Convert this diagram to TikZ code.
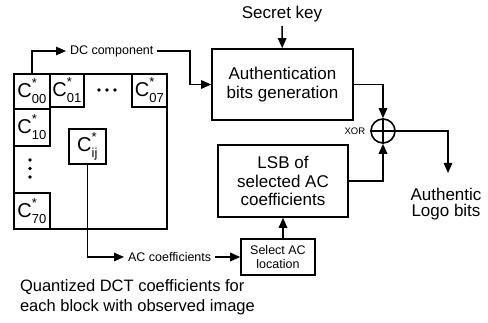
\documentclass[tikz,border=0pt]{standalone}
\usepackage{fontspec}
\setmainfont{Liberation Sans}
\usetikzlibrary{positioning, arrows.meta}

% quantized coefficient label: C with star and index
\newcommand{\qcoef}[1]{C\rlap{\raisebox{0.5em}{\fontsize{13}{13}\selectfont *}}\raisebox{-0.3em}{\fontsize{13}{13}\selectfont #1}}

\begin{document}
\begin{tikzpicture}[x=1pt, y=-1pt, line width=1.4pt, >={Triangle[length=10pt, width=8.5pt]},
    block/.style={draw, line width=1.6pt, align=center, font=\fontsize{17}{18.5}\selectfont},
    cell/.style={draw, line width=1.6pt, inner sep=0pt, anchor=north west, font=\fontsize{20}{20}\selectfont},
    lbl/.style={font=\fontsize{12.5}{14}\selectfont}]
    \useasboundingbox (0,0) rectangle (488,323);

    % coefficient block
    \node[draw, line width=1.6pt, anchor=north west, minimum width=153pt, minimum height=155pt] (blk) at (13,73) {};
    \node[cell, minimum width=36pt, minimum height=35pt] (c00) at (13,73) {\qcoef{00}};
    \node[cell, minimum width=34pt, minimum height=33pt] (c01) at (49,73) {\qcoef{01}};
    \node[cell, minimum width=35pt, minimum height=33pt] (c07) at (131,73) {\qcoef{07}};
    \node[cell, minimum width=36pt, minimum height=37pt] (c10) at (13,108) {\qcoef{10}};
    \node[cell, minimum width=36pt, minimum height=36pt] (c70) at (13,192) {\qcoef{70}};
    \node[cell, minimum width=37pt, minimum height=35pt] (cij) at (68,128) {\qcoef{ij}};
    % ellipsis dots
    \foreach \x in {99,107,115} \fill (\x,90) circle (1.8pt);
    \foreach \y in {160,168.5,177} \fill (30,\y) circle (1.8pt);

    % processing blocks
    \node[block, minimum width=141pt, minimum height=71pt] (auth) at (282.5,84.5) {Authentication\\bits generation};
    \node[block, minimum width=130pt, minimum height=72pt] (lsb) at (283,181) {LSB of\\selected AC\\coefficients};
    \node[draw, line width=1.6pt, align=center, minimum width=74pt, minimum height=36pt,
        font=\fontsize{12.5}{14}\selectfont] (sel) at (278,257) {Select AC\\location};
    \node[draw, circle, line width=1.6pt, minimum size=24pt, inner sep=0pt] (xor) at (383,131) {};
    \draw[line width=1.6pt] (xor.north) -- (xor.south) (xor.west) -- (xor.east);
    \node[left=1pt of xor, font=\fontsize{9.5}{10}\selectfont] (xorlbl) {XOR};

    % texts
    \node[font=\fontsize{17}{18}\selectfont] (key) at (282,14) {Secret key};
    \node[lbl, anchor=west] (dc) at (66,51) {DC component};
    \node[lbl, anchor=west] (ac) at (124,257) {AC coefficients};
    \node[align=center, font=\fontsize{17}{16.5}\selectfont] (logo) at (446,204) {Authentic\\Logo bits};
    \node[align=left, anchor=north west, font=\fontsize{16.5}{20}\selectfont] (caption) at (16,276)
        {Quantized DCT coefficients for\\each block with observed image};

    \coordinate (dcbend) at (190,51);
    \coordinate (outend) at (448,173);

    % connections
    \draw[->] (c00.north) |- (dc.west);
    \draw[->] (dc.east) -- (dcbend) |- (auth.west);
    \draw[->] (key) -- (auth);
    \draw[->] (auth.east) -| (xor.north);
    \draw[->] (lsb.east) -| (xor.south);
    \draw[->] (xor.east) -| (outend);
    \draw[->] (cij.south) |- (ac.west);
    \draw[->] (ac.east) -- (sel.west);
    \draw[->] (sel.north -| lsb.south) -- (lsb.south);
\end{tikzpicture}
\end{document}
